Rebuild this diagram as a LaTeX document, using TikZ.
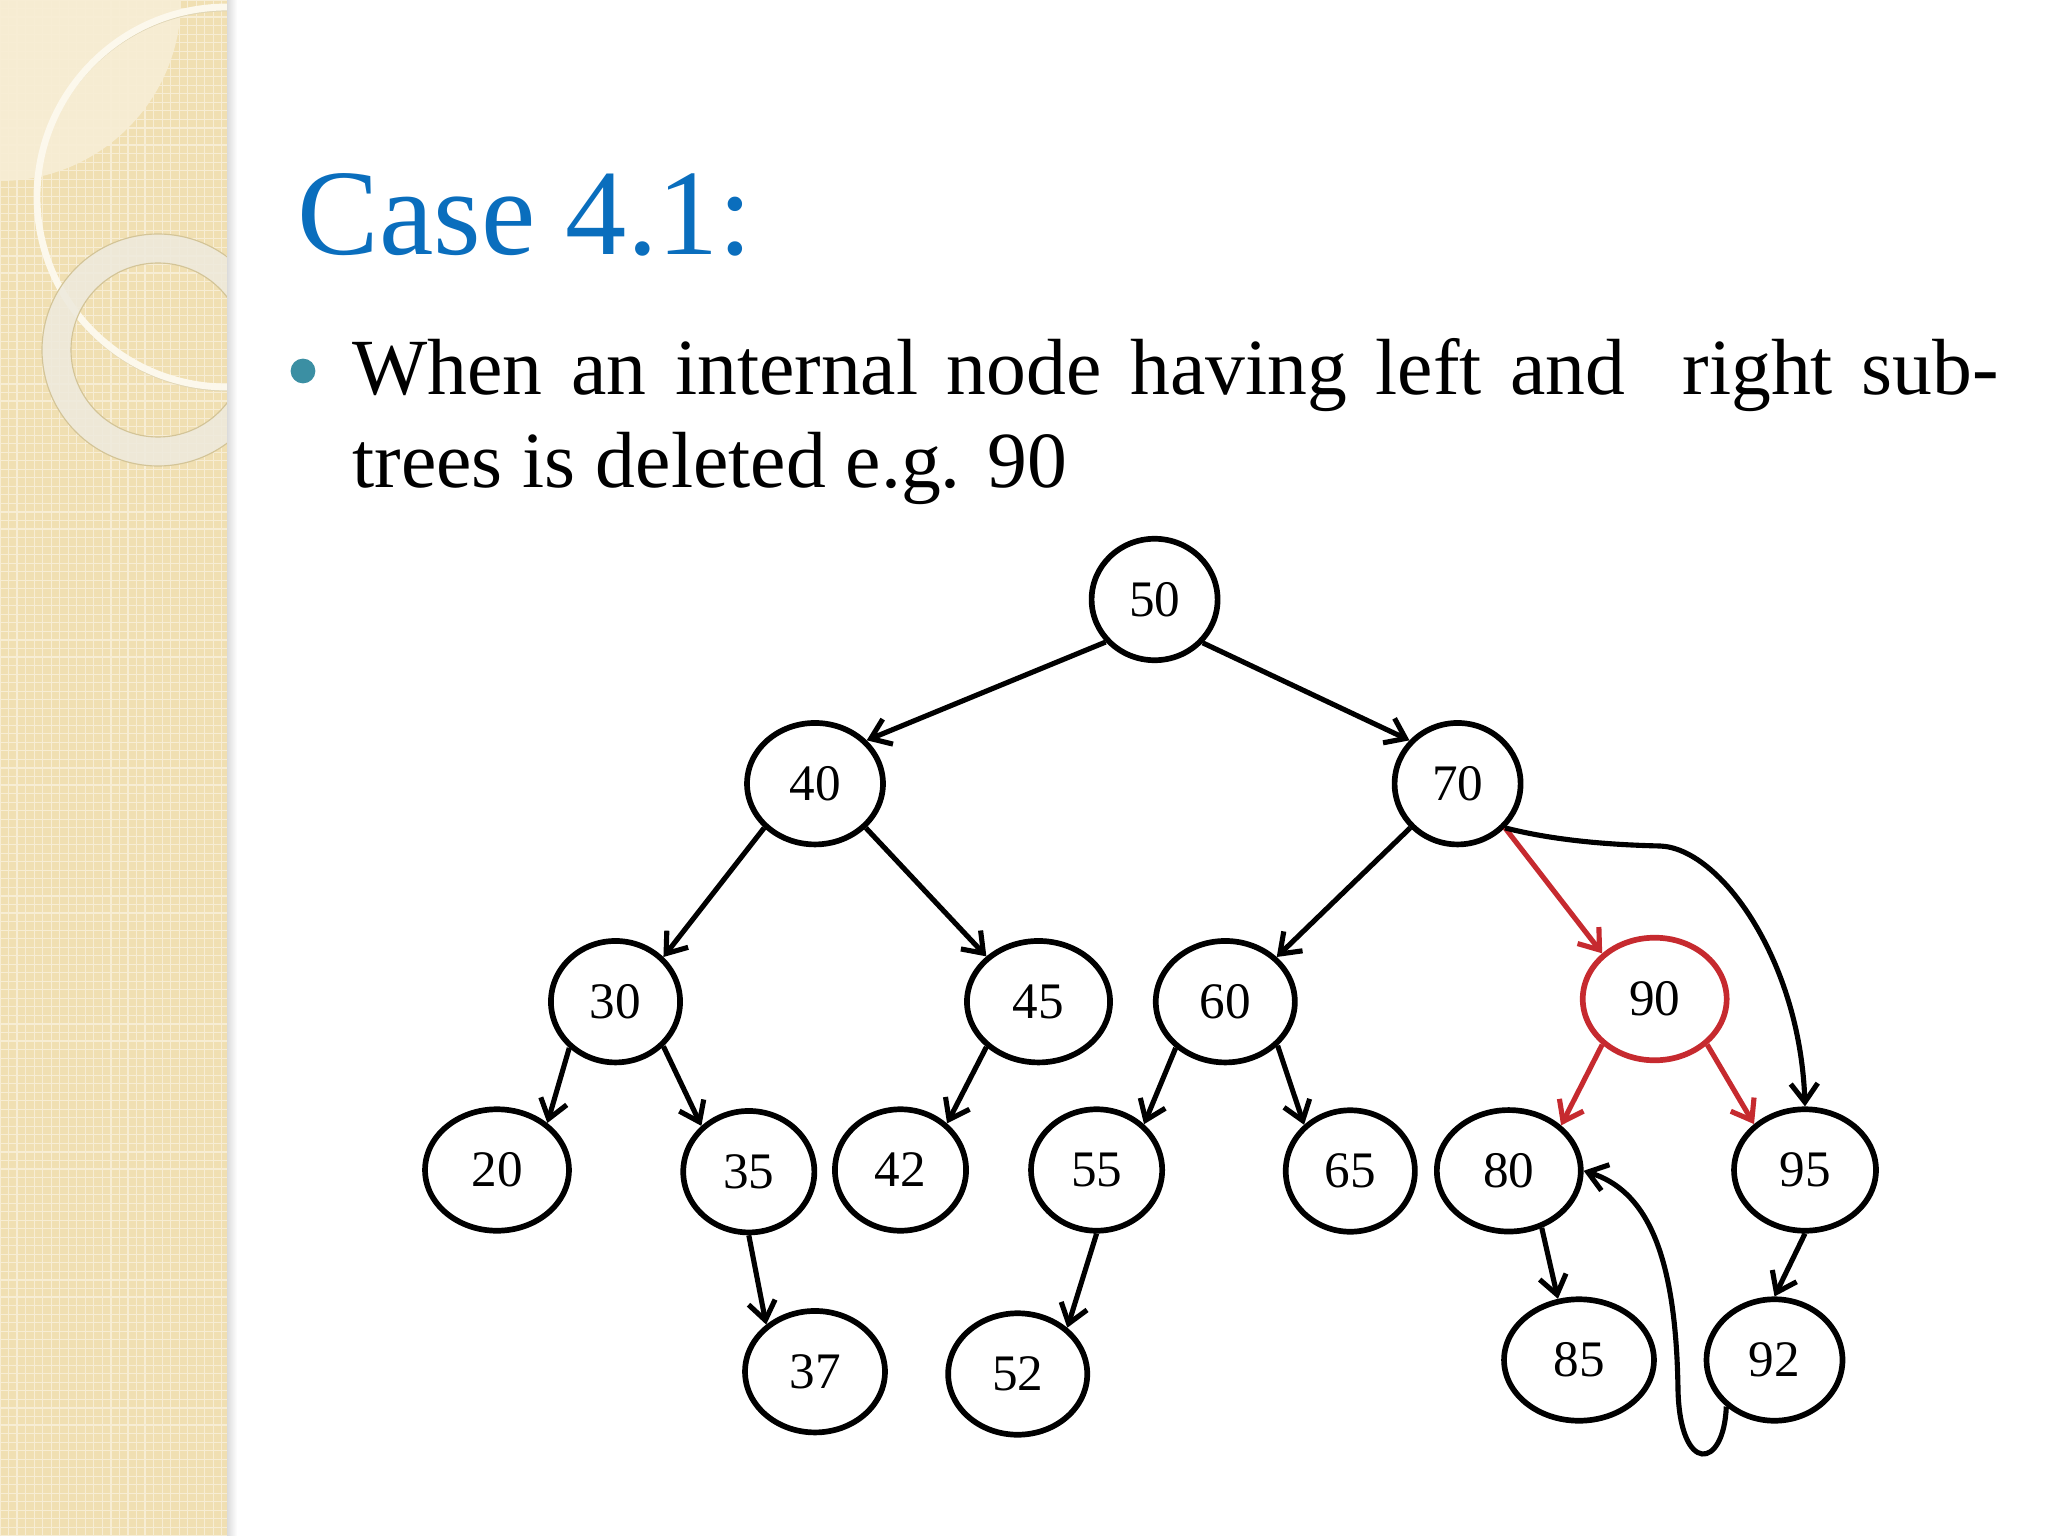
\documentclass[tikz,border=0pt]{standalone}
\usepackage{fontspec}
\setmainfont{Liberation Serif}
\usetikzlibrary{shapes.geometric,arrows.meta,patterns}
\definecolor{titleblue}{HTML}{0A6EBD}
\definecolor{bulletteal}{HTML}{3B8FA3}
\definecolor{delred}{HTML}{C62A2F}
\definecolor{bandbase}{HTML}{F0DFB2}
\definecolor{bandlight}{HTML}{F6ECD2}
\definecolor{bandgrid}{HTML}{F7EDD4}
\definecolor{ringthin}{HTML}{FCF8EC}
\definecolor{ringthick}{HTML}{EEEADD}
\definecolor{ringedge}{HTML}{D3C497}
\tikzset{
  bst/.style={ellipse, draw=black, fill=white, line width=2pt, inner sep=0pt,
              minimum height=42.7pt, font=\fontsize{18}{18}\selectfont},
  tedge/.style={line width=1.8pt, -{Straight Barb[length=6.5pt,width=9.5pt]}},
  redge/.style={tedge, draw=delred},
}
\begin{document}
\begin{tikzpicture}[x=0.3515625pt, y=-0.3515625pt]
\useasboundingbox (0,0) rectangle (2048,1536);
\fill[white] (0,0) rectangle (2048,1536);
% decorative band
\begin{scope}
  \clip (0,0) rectangle (227,1536);
  \fill[bandbase] (0,0) rectangle (227,1536);
  \fill[bandlight] (0,0) circle[radius=181];
  \fill[pattern=grid, pattern color=bandgrid] (0,0) rectangle (227,1536);
  \draw[ringedge!70, line width=1pt] (227,200) circle[radius=190];
  \draw[ringthin, line width=2.4pt] (227,197) circle[radius=190];
  \draw[ringthick, line width=10.2pt, opacity=0.88] (158,350) circle[radius=101.5];
  \draw[ringedge, line width=0.4pt] (158,350) circle[radius=116];
  \draw[ringedge, line width=0.4pt] (158,350) circle[radius=87];
\end{scope}
\shade[left color=black!14, right color=white] (227,0) rectangle (237,1536);
% title and text
\node[anchor=base west, inner sep=0pt, text=titleblue, font=\fontsize{43}{43}\selectfont] (title) at (297,255) {Case 4.1:};
\node[circle, fill=bulletteal, inner sep=0pt, minimum size=8.7pt] (bullet) at (303,371) {};
\node[anchor=base west, inner sep=0pt, font=\fontsize{28}{33}\selectfont] (line1) at (352,395)
  {\makebox[578.7pt][s]{When an internal node having left and\ \ right sub-}};
\node[anchor=base west, inner sep=0pt, font=\fontsize{28}{33}\selectfont] (line2) at (352,488)
  {trees is deleted e.g. 90};
% tree nodes
\node[bst, minimum width=44.3pt] (n50) at (1154.6,599.5) {50};
\node[bst, minimum width=47.8pt] (n40) at (815,783.7) {40};
\node[bst, minimum width=44.3pt] (n70) at (1457.6,783.7) {70};
\node[bst, minimum width=45.4pt] (n30) at (615.5,1001.7) {30};
\node[bst, minimum width=50.3pt] (n45) at (1038.5,1001.7) {45};
\node[bst, minimum width=48.9pt] (n60) at (1225.3,1001.7) {60};
\node[bst, minimum width=50.6pt, draw=delred, minimum height=43.1pt] (n90) at (1654.7,999) {90};
\node[bst, minimum width=50.6pt] (n20) at (497,1170) {20};
\node[bst, minimum width=46.1pt] (n35) at (748.8,1171.7) {35};
\node[bst, minimum width=46.1pt] (n42) at (900.5,1170) {42};
\node[bst, minimum width=46.1pt] (n55) at (1096.6,1170) {55};
\node[bst, minimum width=45.4pt] (n65) at (1350.3,1171) {65};
\node[bst, minimum width=50.6pt] (n80) at (1508.8,1170.8) {80};
\node[bst, minimum width=49.9pt] (n95) at (1805,1170) {95};
\node[bst, minimum width=49.2pt] (n37) at (815,1371.7) {37};
\node[bst, minimum width=48.9pt] (n52) at (1017.7,1374) {52};
\node[bst, minimum width=52.7pt] (n85) at (1579,1360) {85};
\node[bst, minimum width=47.8pt] (n92) at (1774.5,1360) {92};
% edges
\draw[tedge] (n50.221) -- (n40.40);
\draw[tedge] (n50.318) -- (n70.138);
\draw[tedge] (n40.221) -- (n30.43);
\draw[tedge] (n40.319) -- (n45.139);
\draw[tedge] (n70.223) -- (n60.41);
\draw[redge] (n70.317) -- (n90.139);
\draw[tedge] (n70.317) .. controls (1560,842) and (1620,845) .. (1660,846)
  .. controls (1720,848) and (1800,960) .. (n95.north);
\draw[redge] (n90.221) -- (n80.41);
\draw[redge] (n90.319) -- (n95.138);
\draw[tedge] (n30.225) -- (n20.43);
\draw[tedge] (n30.317) -- (n35.136);
\draw[tedge] (n45.221) -- (n42.45);
\draw[tedge] (n60.223) -- (n55.44);
\draw[tedge] (n60.320) -- (n65.135);
\draw[tedge] (n35.270) -- (n37.136);
\draw[tedge] (n55.270) -- (n52.43);
\draw[tedge] (n80.300) -- (n85.109);
\draw[tedge] (n95.270) -- (n92.north);
\draw[tedge] (n92.224) .. controls (1724,1470) and (1680,1475) .. (1678,1390)
  .. controls (1676,1250) and (1645,1190) .. (n80.east);
\end{tikzpicture}
\end{document}
